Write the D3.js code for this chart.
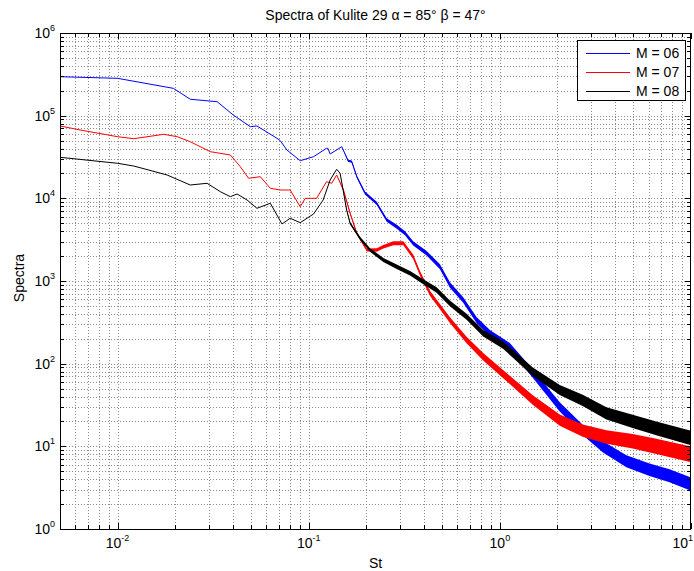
<!DOCTYPE html>
<html>
<head>
<meta charset="utf-8">
<script src="https://cdn.jsdelivr.net/npm/d3@7"></script>
<style>
body { margin: 0; background: #fff; }
text { font-family: Arial, "Liberation Sans", Helvetica, sans-serif; fill: #000; }
</style>
</head>
<body>
<div id="chart"></div>
<script>
// values
const st06 = [0.005, 0.01, 0.0196, 0.024, 0.0332, 0.0403, 0.0495, 0.0536, 0.0682, 0.0709, 0.0769, 0.0903, 0.106, 0.124, 0.126, 0.1295, 0.149, 0.1607, 0.168, 0.1785, 0.197, 0.227, 0.256, 0.289, 0.319, 0.352, 0.414, 0.486, 0.548, 0.643, 0.755, 0.887, 1.127, 1.487, 2.057, 2.712, 3.45, 4.59, 6.07, 7.72, 10];
const sp06 = [296000, 283000, 214000, 158000, 147500, 101900, 73600, 75000, 53300, 50000, 38440, 28530, 31900, 40300, 40300, 34400, 42140, 28530, 27750, 18280, 11600, 8710, 5470, 4540, 3776, 2858, 2163, 1489, 895, 589, 337, 233, 160, 76, 30, 15.8, 9.9, 6.6, 5.2, 4.4, 3.5];
// half width (in decades) of the noisy band around each point
const band06 = [0, 0, 0, 0, 0, 0, 0, 0, 0, 0, 0, 0, 0, 0, 0, 0, 0, 0.012, 0.014, 0.015, 0.018, 0.02, 0.022, 0.024, 0.025, 0.026, 0.028, 0.03, 0.032, 0.034, 0.036, 0.04, 0.045, 0.05, 0.055, 0.062, 0.068, 0.072, 0.075, 0.078, 0.08];

const st07 = [0.005, 0.00667, 0.01, 0.01216, 0.01745, 0.0205, 0.024, 0.0306, 0.0389, 0.0439, 0.0485, 0.0558, 0.063, 0.0709, 0.080, 0.0903, 0.0959, 0.110, 0.124, 0.132, 0.140, 0.152, 0.1647, 0.1785, 0.2014, 0.227, 0.2458, 0.277, 0.3126, 0.352, 0.382, 0.4306, 0.486, 0.548, 0.670, 0.818, 1.127, 1.487, 2.057, 2.712, 3.61, 4.95, 6.58, 10];
const sp07 = [75000, 65800, 55670, 52650, 59500, 55670, 48420, 36650, 33440, 24130, 17480, 18280, 13230, 12610, 12610, 7920, 10000, 10000, 15900, 15200, 19160, 12600, 6590, 3776, 2372, 2372, 2600, 2858, 2858, 1968, 1240, 710, 489, 337, 193, 121, 63.5, 36.4, 20.8, 15.5, 13, 11.5, 10, 8];
const band07 = [0, 0, 0, 0, 0, 0, 0, 0, 0, 0, 0, 0, 0, 0, 0, 0, 0, 0, 0, 0, 0, 0.012, 0.015, 0.016, 0.018, 0.02, 0.022, 0.024, 0.025, 0.027, 0.028, 0.03, 0.032, 0.035, 0.04, 0.045, 0.05, 0.058, 0.068, 0.075, 0.082, 0.088, 0.092, 0.095];

const st08 = [0.005, 0.01, 0.01216, 0.01817, 0.024, 0.0294, 0.0345, 0.0389, 0.0422, 0.0476, 0.0536, 0.063, 0.0725, 0.080, 0.0903, 0.106, 0.119, 0.1295, 0.140, 0.146, 0.158, 0.1647, 0.1857, 0.2094, 0.2458, 0.2888, 0.339, 0.3977, 0.4667, 0.548, 0.670, 0.818, 1.04, 1.487, 2.057, 2.712, 3.61, 4.95, 6.58, 10];
const sp08 = [31360, 26540, 24600, 19160, 14500, 15200, 12030, 10470, 11290, 9550, 7578, 8710, 4893, 5737, 5075, 6464, 9550, 16670, 22450, 20090, 7228, 4990, 3285, 2372, 1795, 1489, 1240, 981, 778, 537, 370, 233, 168, 80, 48, 36, 25, 20, 16.5, 12.6];
const band08 = [0, 0, 0, 0, 0, 0, 0, 0, 0, 0, 0, 0, 0, 0, 0, 0, 0, 0, 0, 0, 0.012, 0.015, 0.02, 0.022, 0.025, 0.027, 0.028, 0.03, 0.032, 0.034, 0.036, 0.04, 0.045, 0.052, 0.06, 0.068, 0.074, 0.08, 0.084, 0.088];

const seriesNames = ["M = 06", "M = 07", "M = 08"];
const seriesColors = ["#0000ff", "#ff0000", "#000000"];
const xTickExp = [-2, -1, 0, 1];
const yTickExp = [0, 1, 2, 3, 4, 5, 6];

const margin = { top: 33, right: 3, bottom: 42, left: 60 },
    width = 694 - margin.left - margin.right,
    height = 571 - margin.top - margin.bottom;

const svg = d3.select("#chart")
    .append("svg")
    .attr("width", 694)
    .attr("height", 571)
    .append("g")
    .attr("transform", `translate(${margin.left},${margin.top})`);

const x = d3.scaleLog().domain([0.005, 10]).range([0, width]);
const y = d3.scaleLog().domain([1, 1e6]).range([height, 0]);

// all decade multiples inside the domain (for grid + ticks)
function logTicks(scale) {
    const [a, b] = scale.domain();
    const out = [];
    for (let k = Math.floor(Math.log10(a)); k <= Math.ceil(Math.log10(b)); k++) {
        for (let m = 1; m <= 9; m++) {
            const v = m * Math.pow(10, k);
            if (v >= a * 0.9999 && v <= b * 1.0001) out.push({ v: v, major: m === 1 });
        }
    }
    return out;
}
const xt = logTicks(x), yt = logTicks(y);

// grid (major and minor, dotted)
svg.append("g").selectAll("line")
    .data(xt.filter(d => x(d.v) > 0.5 && x(d.v) < width - 0.5))
    .join("line")
    .attr("x1", d => Math.round(x(d.v)) + 0.5).attr("x2", d => Math.round(x(d.v)) + 0.5)
    .attr("y1", 0).attr("y2", height)
    .attr("stroke", "#8c8c8c").attr("stroke-width", 1)
    .attr("stroke-dasharray", "1,2");
svg.append("g").selectAll("line")
    .data(yt.filter(d => y(d.v) > 0.5 && y(d.v) < height - 0.5))
    .join("line")
    .attr("y1", d => Math.round(y(d.v)) + 0.5).attr("y2", d => Math.round(y(d.v)) + 0.5)
    .attr("x1", 0).attr("x2", width)
    .attr("stroke", "#8c8c8c").attr("stroke-width", 1)
    .attr("stroke-dasharray", "1,2");

// series
svg.append("clipPath").attr("id", "clip")
    .append("rect").attr("width", width).attr("height", height);

const series = [
    { st: st06, sp: sp06, band: band06 },
    { st: st07, sp: sp07, band: band07 },
    { st: st08, sp: sp08, band: band08 }
];
const plot = svg.append("g").attr("clip-path", "url(#clip)");

series.forEach(function (s, i) {
    const pts = s.st.map((v, j) => [v, s.sp[j], s.band[j]]);
    plot.append("path")
        .datum(pts)
        .attr("fill", seriesColors[i])
        .attr("d", d3.area()
            .x(d => x(d[0]))
            .y0(d => y(d[1] / Math.pow(10, d[2])))
            .y1(d => y(d[1] * Math.pow(10, d[2]))));
    plot.append("path")
        .datum(pts)
        .attr("fill", "none")
        .attr("stroke", seriesColors[i])
        .attr("stroke-width", 1)
        .attr("d", d3.line()
            .x(d => x(d[0]))
            .y(d => y(d[1])));
});

// box + ticks on all four sides
svg.append("rect")
    .attr("x", 0.5).attr("y", 0.5)
    .attr("width", width - 1).attr("height", height)
    .attr("fill", "none").attr("stroke", "#000");

const tk = svg.append("g").attr("stroke", "#000");
xt.forEach(function (d) {
    const px = Math.round(x(d.v)) + 0.5, len = d.major ? 6 : 4;
    tk.append("line").attr("x1", px).attr("x2", px).attr("y1", height).attr("y2", height - len);
    tk.append("line").attr("x1", px).attr("x2", px).attr("y1", 0).attr("y2", len);
});
yt.forEach(function (d) {
    const py = Math.round(y(d.v)) + 0.5, len = d.major ? 6 : 4;
    tk.append("line").attr("y1", py).attr("y2", py).attr("x1", 0).attr("x2", len);
    tk.append("line").attr("y1", py).attr("y2", py).attr("x1", width).attr("x2", width - len);
});

// tick labels 10^n (last one kept inside the page)
xTickExp.forEach(function (e) {
    const last = x(Math.pow(10, e)) > width - 10;
    const t = svg.append("text")
        .attr("x", last ? width + 2 : x(Math.pow(10, e)))
        .attr("y", height + 19)
        .attr("text-anchor", last ? "end" : "middle")
        .style("font-size", "14px");
    t.append("tspan").text("10");
    t.append("tspan").attr("dy", -7).style("font-size", "9px").text(String(e));
});
yTickExp.forEach(function (e) {
    const t = svg.append("text")
        .attr("x", -5)
        .attr("y", y(Math.pow(10, e)) + 5)
        .attr("text-anchor", "end")
        .style("font-size", "14px");
    t.append("tspan").text("10");
    t.append("tspan").attr("dy", -7).style("font-size", "9px").text(String(e));
});

// titles
svg.append("text")
    .attr("x", width / 2).attr("y", -13)
    .attr("text-anchor", "middle")
    .style("font-size", "14px")
    .text("Spectra of Kulite 29 α = 85° β = 47°");
svg.append("text")
    .attr("x", width / 2).attr("y", height + 39)
    .attr("text-anchor", "middle")
    .style("font-size", "14px")
    .text("St");
svg.append("text")
    .attr("transform", `translate(${-36},${height / 2 - 3}) rotate(-90)`)
    .attr("text-anchor", "middle")
    .style("font-size", "14px")
    .text("Spectra");

// legend
const lg = svg.append("g").attr("transform", `translate(${577 - margin.left},${40 - margin.top})`);
lg.append("rect")
    .attr("x", 0.5).attr("y", 0.5).attr("width", 108).attr("height", 60)
    .attr("fill", "#fff").attr("stroke", "#000");
seriesNames.forEach(function (n, i) {
    const ry = 13 + i * 19;
    lg.append("line")
        .attr("x1", 9).attr("x2", 53)
        .attr("y1", ry + 0.5).attr("y2", ry + 0.5)
        .attr("stroke", seriesColors[i]);
    lg.append("text")
        .attr("x", 59).attr("y", ry + 5)
        .style("font-size", "14px")
        .text(n);
});
</script>
</body>
</html>
